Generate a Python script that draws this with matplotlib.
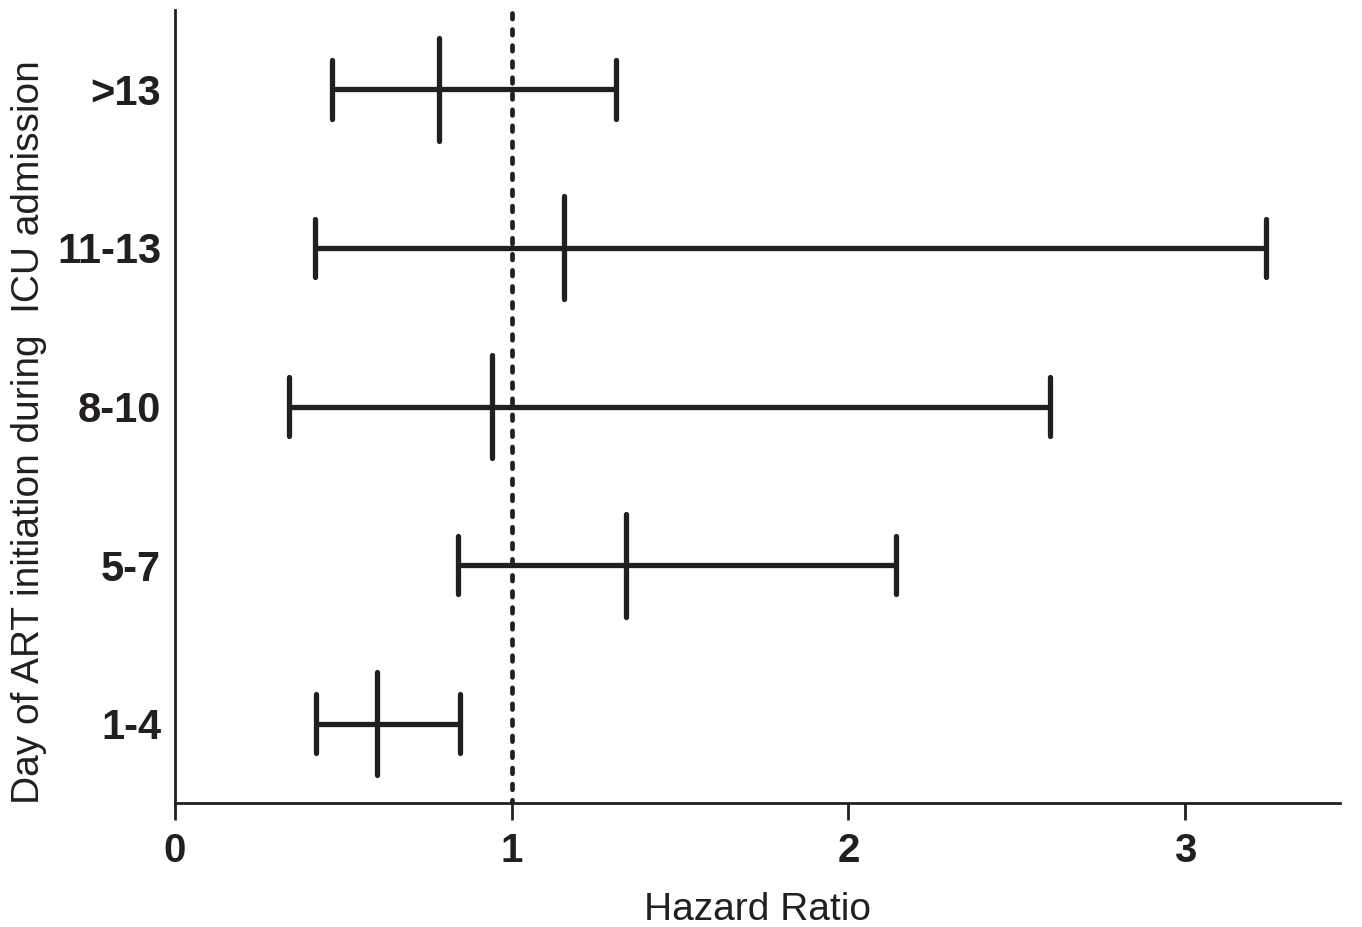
import numpy as np
import matplotlib.pyplot as plt

# hazard ratios with 95% CI, bottom to top
groups = ['1-4', '5-7', '8-10', '11-13', '>13']
hr = [0.60, 1.34, 0.94, 1.155, 0.785]
lower = [0.42, 0.84, 0.34, 0.415, 0.465]
upper = [0.845, 2.14, 2.60, 3.24, 1.31]
xticks = [0, 1, 2, 3]

ink = '#231f20'
plt.rcParams['font.family'] = ['Liberation Sans', 'DejaVu Sans']

fig = plt.figure(figsize=(13.62, 9.27), dpi=100)
ax = fig.add_axes([175 / 1362, 1 - 803 / 927, (1340 - 175) / 1362, (803 - 10) / 927])

ypos = np.arange(len(groups))
ax.hlines(ypos, lower, upper, color=ink, lw=3.8)
ax.vlines(lower, ypos - 0.185, ypos + 0.185, color=ink, lw=3.8, capstyle='round')
ax.vlines(upper, ypos - 0.185, ypos + 0.185, color=ink, lw=3.8, capstyle='round')
ax.vlines(hr, ypos - 0.325, ypos + 0.325, color=ink, lw=3.8, capstyle='round')

# reference line at HR = 1
ax.axvline(1, color=ink, lw=3.4, linestyle=(0.5, (1.2, 2.2)), dash_capstyle='round', zorder=0)

ax.set_xlim(0, 3.46)
ax.set_ylim(-0.5, 4.5)
ax.set_xticks(xticks)
ax.set_xticklabels([str(t) for t in xticks], fontsize=29, fontweight='bold', color=ink)
ax.set_yticks(ypos)
ax.set_yticklabels(groups, fontsize=30, fontweight='bold', color=ink)
ax.tick_params(axis='y', length=0, pad=10)
ax.tick_params(axis='x', length=12, width=2, color=ink, pad=9)

for s in ['top', 'right']:
    ax.spines[s].set_visible(False)
for s in ['left', 'bottom']:
    ax.spines[s].set_linewidth(2)
    ax.spines[s].set_color(ink)

ax.set_xlabel('Hazard Ratio', fontsize=28, color=ink, labelpad=16)
ax.set_ylabel('Day of ART initiation during  ICU admission', fontsize=28, color=ink)
ax.yaxis.set_label_coords(-0.11, 0.468)

fig.savefig('out.png', dpi=100)
